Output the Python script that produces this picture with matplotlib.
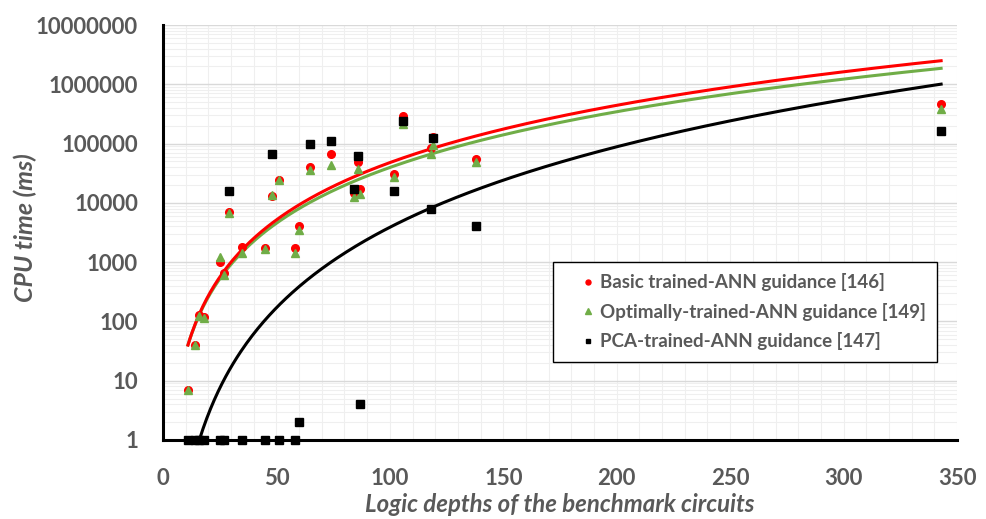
import numpy as np
import matplotlib
matplotlib.use("Agg")
import matplotlib.pyplot as plt
from matplotlib.ticker import FixedLocator, NullFormatter, LogLocator

# ---- data ----
depth = [11, 14, 16, 18, 25, 27, 29, 35, 45, 48, 51, 58, 60, 65, 74, 84, 86, 87,
         102, 106, 118, 119, 138, 343]
basic = [7, 40, 130, 120, 1000, 650, 7000, 1800, 1700, 13000, 24500, 1700, 4000,
         40000, 66000, 14800, 48000, 17000, 30300, 290000, 85000, 129000, 55000, 460000]
optimal = [7, 40, 125, 115, 1200, 600, 6700, 1450, 1650, 13500, 24000, 1400, 3500,
           35500, 43500, 12400, 37500, 14000, 27700, 218000, 68000, 94000, 49000, 378000]
pca = [1, 1, 1, 1, 1, 1, 16000, 1, 1, 66000, 1, 1, 2, 97000, 110000, 16900, 61500,
       4, 15900, 240000, 8000, 123000, 4000, 163000]

# power-law trendline parameters (y = a * x^b)
trend_basic = (0.01816, 3.21)
trend_optimal = (0.02233, 3.124)
trend_pca = (3.7e-6, 4.51)
trend_range = (11, 343)

labels = ["Basic trained-ANN guidance [146]",
          "Optimally-trained-ANN guidance [149]",
          "PCA-trained-ANN guidance [147]"]
xticks = [0, 50, 100, 150, 200, 250, 300, 350]
yticks = [1, 10, 100, 1000, 10000, 100000, 1000000, 10000000]

FONT = "Lato"
GRAY = "#595959"

fig = plt.figure(figsize=(9.87, 5.19), dpi=100)
ax = fig.add_axes([163/987, 1-440/519, (957-163)/987, (440-25)/519])

ax.set_yscale("log")
ax.set_xlim(0, 350)
ax.set_ylim(1, 1e7)

# grid
ax.set_xticks(np.arange(0, 351, 10), minor=True)
ax.xaxis.set_major_locator(FixedLocator(xticks))
ax.yaxis.set_major_locator(FixedLocator(yticks))
ax.yaxis.set_minor_locator(LogLocator(base=10, subs=np.arange(2, 10)))
ax.yaxis.set_minor_formatter(NullFormatter())
ax.grid(which="major", axis="y", color="#d9d9d9", lw=1.0)
ax.grid(which="minor", axis="y", color="#efefef", lw=0.8)
ax.grid(which="both", axis="x", color="#efefef", lw=0.8)
ax.set_axisbelow(True)

ax.set_xticklabels([str(t) for t in xticks])
ax.set_yticklabels([str(t) for t in yticks])
ax.tick_params(which="both", length=0)
ax.tick_params(axis="x", pad=20)
ax.tick_params(axis="y", pad=18)
for lab in ax.get_xticklabels() + ax.get_yticklabels():
    lab.set_fontfamily(FONT)
    lab.set_fontweight("bold")
    lab.set_fontsize(16)
    lab.set_color(GRAY)

for s in ["top", "right"]:
    ax.spines[s].set_visible(False)
for s in ["left", "bottom"]:
    ax.spines[s].set_linewidth(2.2)
    ax.spines[s].set_color("black")

# trendlines
xt = np.linspace(trend_range[0], trend_range[1], 400)
for (a, b), col in [(trend_pca, "black"), (trend_optimal, "#70AD47"), (trend_basic, "#FF0000")]:
    ax.plot(xt, a * xt ** b, color=col, lw=2.2, zorder=2)

# scatter
ax.plot(depth, basic, "o", color="#FF0000", ms=5.5, ls="none", label=labels[0], zorder=3, clip_on=False)
ax.plot(depth, optimal, "^", color="#70AD47", ms=5.8, ls="none", label=labels[1], zorder=4, clip_on=False)
ax.plot(depth, pca, "s", color="black", ms=5.5, ls="none", label=labels[2], zorder=5, clip_on=False)

leg = ax.legend(loc="upper left", bbox_to_anchor=(0.491, 0.429), frameon=True,
                fancybox=False, edgecolor="black", framealpha=1,
                prop={"family": FONT, "weight": "bold", "size": 13.5},
                markerscale=0.65, handlelength=2.56, handletextpad=-0.64,
                labelspacing=0.62, borderpad=0.6, borderaxespad=0)
leg.get_frame().set_linewidth(1.0)
for t in leg.get_texts():
    t.set_color(GRAY)

fig.text(25/987, 1-228/519, "CPU time (ms)", rotation=90, ha="center", va="center",
         fontfamily=FONT, fontweight="bold", fontstyle="italic", fontsize=18, color=GRAY)
fig.text(560/987, 1-505/519, "Logic depths of the benchmark circuits", ha="center", va="center",
         fontfamily=FONT, fontweight="bold", fontstyle="italic", fontsize=17.3, color=GRAY)

fig.savefig("out.png", dpi=100)
